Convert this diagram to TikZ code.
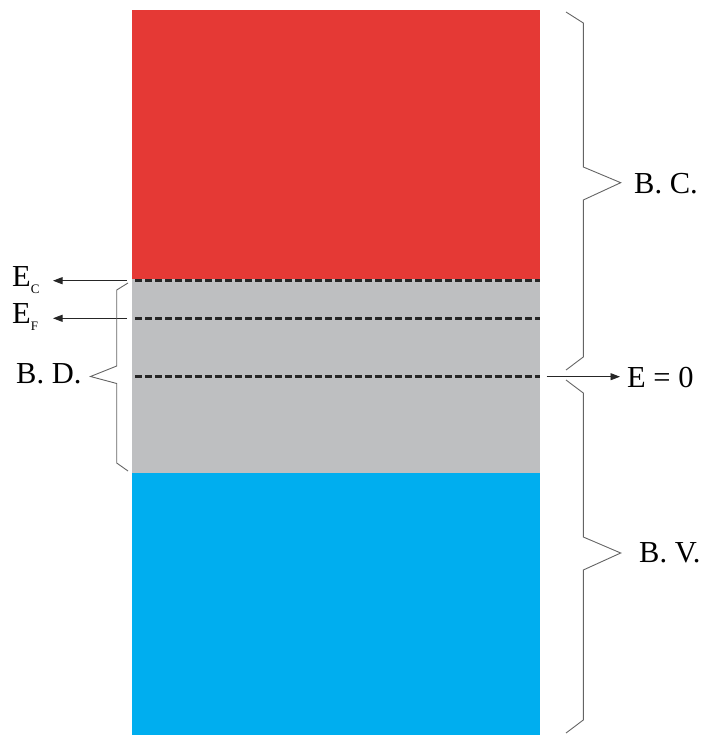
\documentclass[tikz,border=0pt]{standalone}
\usepackage{fontspec}
\setmainfont{Liberation Serif}
\usetikzlibrary{arrows.meta}
\definecolor{bandred}{RGB}{229,57,53}
\definecolor{bandgray}{RGB}{190,191,193}
\definecolor{bandblue}{RGB}{0,174,239}
\definecolor{bracegray}{RGB}{100,100,100}
\newcommand{\lvlsub}[1]{\raisebox{-7pt}{\fontsize{13}{13}\selectfont #1}}
\begin{document}
\begin{tikzpicture}[x=1pt,y=-1pt,
  lbl/.style={anchor=base west,inner sep=0pt,font=\fontsize{30.5}{36}\selectfont},
  level/.style={line width=3.2pt,color=black!85,dash pattern=on 6.5pt off 3.5pt},
  pointer/.style={line width=0.9pt,color=black!85,-{Triangle[length=9.5pt,width=7pt]}},
  bracket/.style={line width=0.9pt,color=bracegray,line join=miter}]
\useasboundingbox (0,0) rectangle (705,735);

% energy bands
\fill[bandred]  (132,10.5)  rectangle (540,279);
\fill[bandgray] (132,279)   rectangle (540,472.5);
\fill[bandblue] (132,472.5) rectangle (540,735);

% levels
\coordinate (ecL) at (135,280.7);  \coordinate (ecR) at (540,280.7);
\coordinate (efL) at (135,318.3);  \coordinate (efR) at (540,318.3);
\coordinate (ezL) at (135,376.7);  \coordinate (ezR) at (540,376.7);
\draw[level] (ecL) -- (ecR);
\draw[level] (efL) -- (efR);
\draw[level] (ezL) -- (ezR);

% labels
\node[lbl] (ec) at (12,286) {E\lvlsub{C}};
\node[lbl] (ef) at (12,323.5) {E\lvlsub{F}};
\node[lbl] (bd) at (16,383.3) {B. D.};
\node[lbl] (bc) at (634,193.3) {B. C.};
\node[lbl] (bv) at (639,562.7) {B. V.};
\node[lbl] (ez) at (627,387.3) {E = 0};

% pointers
\coordinate (ecA) at (127,280.7);  \coordinate (ecB) at (53,280.7);
\coordinate (efA) at (127,318.3);  \coordinate (efB) at (53,318.3);
\coordinate (ezA) at (546.7,376.7); \coordinate (ezB) at (620,376.7);
\draw[pointer] (ecA) -- (ecB);
\draw[pointer] (efA) -- (efB);
\draw[pointer] (ezA) -- (ezB);

% braces
\draw[bracket] (128,283) -- (116.7,290) -- (116.7,366) -- (90.5,376.5)
  -- (116.7,383.5) -- (116.7,463) -- (128,471);
\draw[bracket] (566,12) -- (583.3,23) -- (583.3,167) -- (620.7,182.7)
  -- (583.3,200) -- (583.3,357) -- (566,370);
\draw[bracket] (566,380) -- (583.3,393) -- (583.3,537) -- (620.7,553)
  -- (583.3,570) -- (583.3,720) -- (566,733);
\end{tikzpicture}
\end{document}
